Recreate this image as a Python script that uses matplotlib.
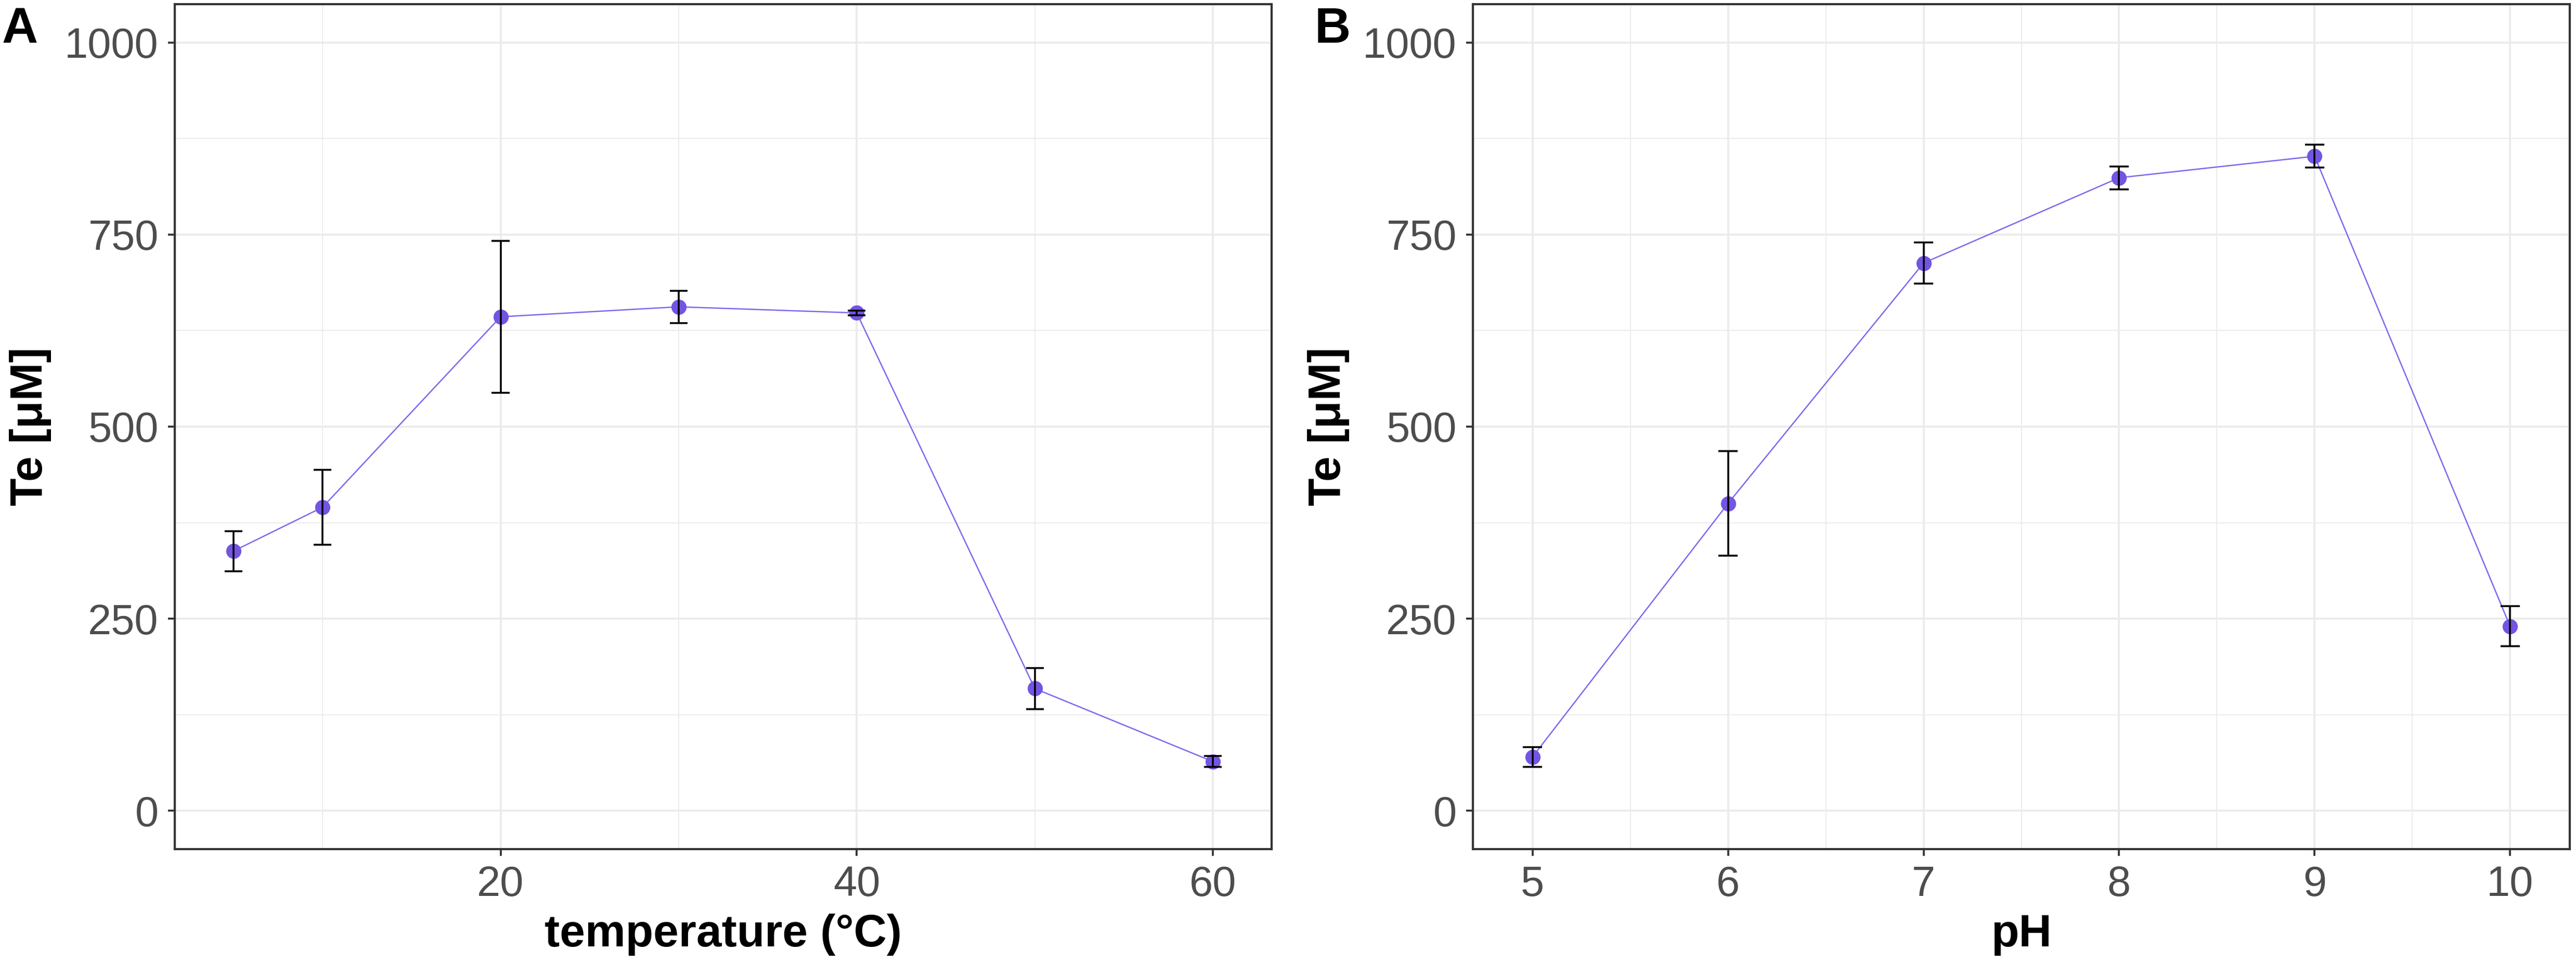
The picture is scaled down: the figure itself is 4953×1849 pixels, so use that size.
import matplotlib
matplotlib.use("Agg")
import matplotlib.pyplot as plt
import numpy as np

# ---- data ----
temperature = [5, 10, 20, 30, 40, 50, 60]
te_temperature = [338, 395, 643, 656, 648, 159, 64]
err_temperature = [26, 49, 99, 21, 3, 27, 7]

ph = [5, 6, 7, 8, 9, 10]
te_ph = [70, 400, 713, 824, 852, 240]
err_ph = [13, 68, 27, 15, 15, 26]

y_ticks = [0, 250, 500, 750, 1000]
temp_ticks = [20, 40, 60]
ph_ticks = [5, 6, 7, 8, 9, 10]

plt.rcParams['font.family'] = ['Liberation Sans', 'DejaVu Sans']

W, H = 4953, 1849
DPI = 300
fig = plt.figure(figsize=(W / DPI, H / DPI), dpi=DPI)

def ax_rect(l, r, t, b):
    return [l / W, (H - b) / H, (r - l) / W, (b - t) / H]

LINE_C = '#7B68EE'
PT_C = '#7355E1'
GRID_C = '#EBEBEB'
DARK = '#333333'

def panel(rect, x, y, e, width, xticks, xminor, xlabel, letter, letter_x):
    ax = fig.add_axes(rect)
    x = np.asarray(x, float); y = np.asarray(y, float); e = np.asarray(e, float)
    lo, hi = x.min() - width / 2, x.max() + width / 2
    pad = 0.05 * (hi - lo)
    ax.set_xlim(lo - pad, hi + pad)
    ax.set_ylim(-50, 1050)
    ax.set_xticks(xticks)
    ax.set_xticks(xminor, minor=True)
    ax.set_yticks(y_ticks)
    ax.set_yticks([125, 375, 625, 875], minor=True)
    ax.grid(True, which='major', color=GRID_C, lw=0.9, zorder=0)
    ax.grid(True, which='minor', color=GRID_C, lw=0.45, zorder=0)
    ax.set_axisbelow(True)
    ax.plot(x, y, color=LINE_C, lw=0.6, zorder=2)
    ax.scatter(x, y, s=7.0 ** 2, color=PT_C, lw=0, zorder=3)
    ax.vlines(x, y - e, y + e, color='black', lw=0.85, zorder=4)
    ax.hlines(y - e, x - width / 2, x + width / 2, color='black', lw=0.85, zorder=4)
    ax.hlines(y + e, x - width / 2, x + width / 2, color='black', lw=0.85, zorder=4)
    for s in ax.spines.values():
        s.set_color(DARK)
        s.set_linewidth(1.0)
    ax.tick_params(which='major', length=3.2, width=0.9, color=DARK,
                   labelsize=19.5, labelcolor='#4D4D4D', pad=4.3)
    ax.tick_params(which='minor', length=0)
    ax.set_xlabel(xlabel, fontsize=21, fontweight='bold', labelpad=4)
    ax.set_ylabel('Te [μM]', fontsize=21, fontweight='bold', labelpad=6)
    fig.text(letter_x / W, 1 - 12 / H, letter, fontsize=23, fontweight='bold',
             ha='left', va='top')
    return ax

panel(ax_rect(336, 2445, 8, 1632), temperature, te_temperature, err_temperature,
      1.0, temp_ticks, [10, 30, 50], 'temperature (°C)', 'A', 4)
panel(ax_rect(2832, 4941, 8, 1632), ph, te_ph, err_ph,
      0.1, ph_ticks, [5.5, 6.5, 7.5, 8.5, 9.5], 'pH', 'B', 2528)

fig.savefig('out.png', dpi=DPI, facecolor='white')
